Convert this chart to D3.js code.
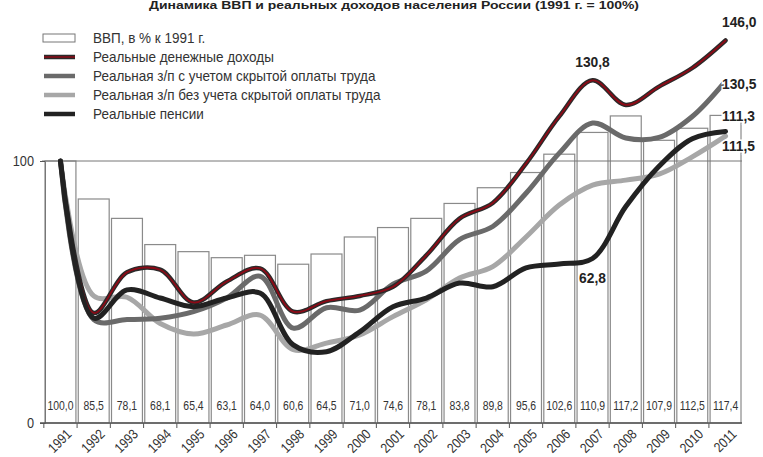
<!DOCTYPE html>
<html><head><meta charset="utf-8">
<script src="https://cdn.jsdelivr.net/npm/d3@7"></script>
<style>
body{margin:0;background:#fff;}
svg{display:block;}
text{font-family:"Liberation Sans","Arial",sans-serif;}
</style></head>
<body><svg id="c" width="763" height="457"></svg>
<script>
const years = ["1991","1992","1993","1994","1995","1996","1997","1998","1999","2000","2001","2002","2003","2004","2005","2006","2007","2008","2009","2010","2011"];
const gdp = [100.0,85.5,78.1,68.1,65.4,63.1,64.0,60.6,64.5,71.0,74.6,78.1,83.8,89.8,95.6,102.6,110.9,117.2,107.9,112.5,117.4];
const gdpLabels = ["100,0","85,5","78,1","68,1","65,4","63,1","64,0","60,6","64,5","71,0","74,6","78,1","83,8","89,8","95,6","102,6","110,9","117,2","107,9","112,5","117,4"];
const income = [100,42,57.5,58.5,46,54,59,42.5,46.5,48.5,52,64,78,84,99,117,130.8,121.4,128.4,135.5,146.0];
const wageHidden = [100,39.5,39.5,40,42.5,47.7,56,36.2,44,43.1,53,58,70,75,87.7,103,114.5,108.8,109,117,130.5];
const wage = [100,48.5,48,38,34,37.4,41.2,28,30.5,33.6,40.6,47,55.3,59.7,71,83.2,90.8,92.7,95,101.6,109.5];
const pension = [100,40,50.8,47.7,44.4,47.7,49.6,29.8,27.2,34.8,44.4,47.7,53.4,52,59.2,60.7,62.8,82.6,98,108.5,111.3];
const legendLabels = ["ВВП, в % к 1991 г.","Реальные денежные доходы","Реальная з/п с учетом скрытой оплаты труда","Реальная з/п без учета скрытой оплаты труда","Реальные пенсии"];
const yTicks = [0,100];
const title = "Динамика ВВП и реальных доходов населения России (1991 г. = 100%)";

const svg = d3.select("#c");
const x = d3.scaleBand().domain(years).range([44,742]).paddingInner(0.07).paddingOuter(0.03);
const y = d3.scaleLinear().domain([0,100]).range([423,161]);
const cx = d => x(d) + x.bandwidth()/2;

function condense(sel, f){
  sel.each(function(){
    const L = this.getComputedTextLength();
    d3.select(this).attr("textLength", L*f).attr("lengthAdjust","spacingAndGlyphs");
  });
  return sel;
}

// title (compressed into top strip)
svg.append("text").attr("x",394).attr("y",9).attr("text-anchor","middle")
  .attr("font-size",11).attr("font-weight","bold").attr("fill","#222")
  .attr("textLength",490).attr("lengthAdjust","spacingAndGlyphs").text(title);

// bars
svg.append("g").selectAll("rect").data(years).join("rect")
  .attr("x",d=>x(d)).attr("width",x.bandwidth())
  .attr("y",(d,i)=>y(gdp[i])).attr("height",(d,i)=>y(0)-y(gdp[i]))
  .attr("fill","#fff").attr("stroke","#8a8a8a").attr("stroke-width",1.2);

condense(svg.append("g").selectAll("text").data(years).join("text")
  .attr("x",d=>cx(d)).attr("y",410).attr("text-anchor","middle")
  .attr("font-size",13).attr("fill","#333").text((d,i)=>gdpLabels[i]), 0.8);

// grid line at 100
svg.append("line").attr("x1",42).attr("x2",742).attr("y1",y(100)).attr("y2",y(100))
  .attr("stroke","#777").attr("stroke-width",1);

// y axis
const yAxis = d3.axisLeft(y).tickValues(yTicks).tickSize(5).tickFormat(d3.format("d"));
const ya = svg.append("g").attr("transform","translate(45,0)").call(yAxis);
ya.select(".domain").attr("stroke","#777");
ya.selectAll(".tick line").attr("stroke","#555");
ya.selectAll(".tick text").attr("font-family","Liberation Sans, Arial, sans-serif")
  .attr("font-size",15).attr("fill","#333").attr("x",-11);
condense(ya.selectAll(".tick text"), 0.85);

// x axis
svg.append("line").attr("x1",40).attr("x2",742).attr("y1",y(0)).attr("y2",y(0)).attr("stroke","#555").attr("stroke-width",1.3);
svg.append("g").selectAll("line").data(years).join("line")
  .attr("x1",d=>x(d)-x.step()*0.035).attr("x2",d=>x(d)-x.step()*0.035)
  .attr("y1",y(0)).attr("y2",y(0)+5).attr("stroke","#555");
condense(svg.append("g").selectAll("text").data(years).join("text")
  .attr("font-size",14).attr("fill","#333").attr("text-anchor","end")
  .attr("transform",d=>`translate(${cx(d)+12},${y(0)+12}) rotate(-45)`).text(d=>d), 0.85);

// lines
const line = d3.line().x((d,i)=>cx(years[i])).y(d=>y(d)).curve(d3.curveCatmullRom.alpha(0.5));
const g = svg.append("g").attr("fill","none").attr("stroke-linecap","round").attr("stroke-linejoin","round");
g.append("path").attr("d",line(wage)).attr("stroke","#a7a7a7").attr("stroke-width",5);
g.append("path").attr("d",line(wageHidden)).attr("stroke","#6a6a6a").attr("stroke-width",5);
g.append("path").attr("d",line(income)).attr("stroke","#2a2a2a").attr("stroke-width",4.5);
g.append("path").attr("d",line(income)).attr("stroke","#8c0a16").attr("stroke-width",1.8);
g.append("path").attr("d",line(pension)).attr("stroke","#222").attr("stroke-width",5);

// value labels
const lab = (txt, xx, yy, anchor) => condense(svg.append("text").attr("x",xx).attr("y",yy)
  .attr("text-anchor",anchor||"start").attr("font-size",15).attr("font-weight","bold").attr("fill","#222")
  .attr("stroke","#fff").attr("stroke-width",3).attr("paint-order","stroke").text(txt), 0.92);
lab("146,0", 722, 27);
lab("130,8", cx("2007"), 67, "middle");
lab("130,5", 722, 89);
lab("111,3", 722, 121);
lab("111,5", 722, 151);
lab("62,8", cx("2007"), 283, "middle");

// legend
const lg = svg.append("g");
const rows = [38,57,76,95,114];
lg.append("rect").attr("x",43).attr("y",34).attr("width",32).attr("height",8).attr("fill","#fff").attr("stroke","#777");
const lc = [null,"#2a2a2a","#6a6a6a","#a7a7a7","#222"];
[1,2,3,4].forEach(i=>{
  lg.append("line").attr("x1",44).attr("x2",75).attr("y1",rows[i]).attr("y2",rows[i]).attr("stroke",lc[i]).attr("stroke-width",4.5);
});
lg.append("line").attr("x1",44).attr("x2",75).attr("y1",rows[1]).attr("y2",rows[1]).attr("stroke","#8c0a16").attr("stroke-width",1.5);
condense(lg.selectAll("text").data(legendLabels).join("text")
  .attr("x",93).attr("y",(d,i)=>rows[i]+5).attr("font-size",14.5).attr("fill","#333").text(d=>d), 0.93);
</script></body></html>
